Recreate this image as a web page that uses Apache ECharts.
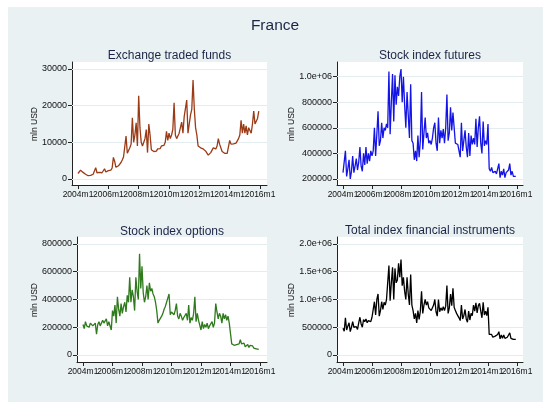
<!DOCTYPE html>
<html>
<head>
<meta charset="utf-8">
<script src="https://cdn.jsdelivr.net/npm/echarts@6/dist/echarts.min.js"></script>
<style>
html,body{margin:0;padding:0;background:#fff;}
#c{width:550px;height:406px;}
</style>
</head>
<body>
<div id="c"></div>
<script>
// Monthly data, 2004m1 .. 2015m12 (index 0 = 2004m1)
var etf = [
  1500,1200,2400,2000,1800,1500,1300,1100,900,800,1000,1100,
  1300,1500,3100,1700,1600,1800,1900,1700,2000,2800,1900,2200,
  2300,2500,2400,3000,5900,4800,3200,3400,3600,4000,4500,5200,
  6000,5500,11700,7000,7500,8500,9500,16700,10000,12000,15300,9000,
  22700,14000,10000,9000,8500,11000,13500,7200,15000,12000,8000,7800,
  7500,7800,7600,8200,8500,8300,9000,9500,9200,10000,13000,10500,
  12500,11000,12000,13500,20800,12000,11000,11500,12500,13000,15500,12500,
  17000,16500,21500,12500,15000,17500,19000,27000,19000,14000,12000,9000,
  9000,8500,8800,8200,8000,7600,7200,6500,7000,7200,7500,8500,
  8000,8200,9000,11000,9500,10000,7500,7200,7000,7300,7000,7500,
  10500,9500,9300,9600,9400,9800,10200,11000,12000,16000,12500,15000,
  12500,14500,12000,14000,14500,12500,15000,18500,15000,14500,16500,18500
];
var futures = [
  250000,240000,420000,220000,280000,350000,200000,260000,380000,250000,300000,360000,
  270000,330000,450000,300000,260000,400000,310000,450000,320000,400000,340000,420000,
  380000,420000,600000,380000,550000,730000,460000,500000,640000,520000,600000,580000,
  630000,600000,1040000,550000,800000,1020000,650000,1010000,780000,920000,850000,1000000,
  1060000,800000,1000000,780000,600000,880000,700000,520000,940000,500000,480000,350000,
  420000,340000,540000,370000,500000,880000,430000,560000,680000,520000,560000,480000,
  500000,470000,520000,600000,640000,480000,420000,680000,480000,580000,520000,590000,
  480000,600000,860000,500000,560000,760000,580000,720000,600000,480000,470000,470000,
  480000,370000,640000,420000,500000,580000,450000,370000,560000,380000,540000,470000,
  520000,470000,670000,450000,600000,690000,480000,400000,650000,460000,500000,470000,
  630000,280000,260000,290000,250000,240000,260000,240000,250000,320000,210000,260000,
  230000,280000,210000,250000,240000,270000,320000,230000,260000,220000,210000,220000
];
var options = [
  220000,190000,240000,210000,220000,200000,230000,240000,210000,200000,230000,150000,
  220000,240000,210000,200000,250000,230000,220000,260000,210000,240000,250000,180000,
  320000,280000,360000,230000,420000,330000,280000,370000,300000,350000,380000,310000,
  430000,380000,560000,380000,470000,420000,320000,560000,460000,400000,730000,480000,
  640000,450000,380000,420000,500000,400000,520000,460000,480000,440000,420000,380000,
  320000,230000,250000,260000,280000,300000,330000,350000,380000,410000,440000,290000,
  310000,300000,290000,320000,370000,280000,260000,300000,280000,250000,270000,260000,
  300000,250000,360000,230000,270000,250000,300000,420000,240000,300000,250000,260000,
  180000,240000,190000,220000,200000,230000,190000,210000,220000,240000,200000,230000,
  370000,310000,260000,300000,280000,230000,300000,260000,290000,250000,280000,230000,
  220000,80000,90000,70000,60000,75000,70000,80000,110000,80000,70000,85000,
  60000,70000,75000,55000,70000,60000,65000,50000,60000,45000,50000,40000
];
var total = [
  480000,430000,670000,450000,520000,580000,420000,500000,600000,500000,530000,510000,
  460000,580000,680000,560000,500000,640000,600000,650000,580000,620000,640000,600000,
  680000,700000,960000,720000,1000000,1100000,700000,800000,960000,820000,950000,900000,
  1000000,980000,1610000,980000,1300000,1580000,1000000,1560000,1300000,1350000,1650000,1400000,
  1720000,1250000,1400000,1150000,1000000,1400000,1100000,900000,1450000,900000,800000,650000,
  750000,580000,800000,640000,790000,1150000,750000,900000,1000000,900000,960000,850000,
  820000,800000,820000,900000,1000000,780000,700000,1000000,780000,850000,800000,870000,
  800000,880000,1250000,750000,850000,1100000,890000,1200000,860000,800000,750000,740000,
  670000,620000,900000,650000,710000,820000,650000,590000,790000,630000,750000,710000,
  900000,790000,940000,760000,890000,930000,790000,670000,950000,720000,790000,710000,
  860000,370000,360000,370000,320000,320000,340000,330000,370000,420000,290000,360000,
  300000,360000,300000,320000,320000,340000,400000,300000,330000,280000,270000,280000
];
var xTicks = [0, 24, 48, 72, 96, 120, 144];
var xTickLabels = ['2004m1','2006m1','2008m1','2010m1','2012m1','2014m1','2016m1'];
var yTicksEtf = [0, 10000, 20000, 30000];
var yLabelsEtf = ['0','10000','20000','30000'];
var yTicksFut = [200000, 400000, 600000, 800000, 1000000];
var yLabelsFut = ['200000','400000','600000','800000','1.0e+06'];
var yTicksOpt = [0, 200000, 400000, 600000, 800000];
var yLabelsOpt = ['0','200000','400000','600000','800000'];
var yTicksTot = [0, 500000, 1000000, 1500000, 2000000];
var yLabelsTot = ['0','500000','1.0e+06','1.5e+06','2.0e+06'];
var panelTitles = ['Exchange traded funds','Stock index futures','Stock index options','Total index financial instruments'];
var mainTitle = 'France';
var yName = 'mln USD';

var FONT = '"Liberation Sans", Arial, Helvetica, sans-serif';
var TXT = '#111';
var TITLE = '#1c2545';

function toPairs(arr){ return arr.map(function(v,i){ return [i, v]; }); }
function labelMap(ticks, labels){ return function(v){ var k = ticks.indexOf(v); return k >= 0 ? labels[k] : ''; }; }
// split tick list into alternating halves so neighbouring labels never compete for space
var xTicksA = xTicks.filter(function(v, i){ return i % 2 === 0; });
var xTicksB = xTicks.filter(function(v, i){ return i % 2 === 1; });

var panels = [
  {grid:{left:72, top:62, width:195, height:123}, xmin:-4.75, xmax:149.5, ymin:-1636, ymax:31900,
   ticks:yTicksEtf, labels:yLabelsEtf, data:etf, color:'#9b3a16', title:[169.5,57], yname:[35,124]},
  {grid:{left:337, top:62, width:186, height:123}, xmin:-4.97, xmax:148.97, ymin:153000, ymax:1114700,
   ticks:yTicksFut, labels:yLabelsFut, data:futures, color:'#1414e6', title:[430,57], yname:[292,124]},
  {grid:{left:77, top:237, width:190, height:125}, xmin:-4.88, xmax:149.7, ymin:-50450, ymax:850450,
   ticks:yTicksOpt, labels:yLabelsOpt, data:options, color:'#2f7a1c', title:[172,233], yname:[35,300]},
  {grid:{left:337, top:237, width:186, height:125}, xmin:-4.97, xmax:148.97, ymin:-126000, ymax:2126000,
   ticks:yTicksTot, labels:yLabelsTot, data:total, color:'#000000', title:[430,232], yname:[292,300]}
];

var grids = [], xAxes = [], yAxes = [], series = [], titles = [], graphics = [];
graphics.push({type:'rect', z:-10, shape:{x:8, y:7, width:535, height:395}, style:{fill:'#e9f1f3'}});
titles.push({text: mainTitle, left: 275, top: 18, textAlign:'center', padding:0,
  textStyle:{fontFamily:FONT, fontSize:15.5, fontWeight:'normal', color:TITLE}});

panels.forEach(function(p, k){
  grids.push(Object.assign({show:true, backgroundColor:'#ffffff', borderWidth:0}, p.grid));
  var xLabelStyle = {show:true, formatter:labelMap(xTicks, xTickLabels), margin:5,
      showMinLabel:true, showMaxLabel:true, hideOverlap:false,
      fontFamily:FONT, fontSize:8.5, color:TXT};
  xAxes.push({
    type:'value', gridIndex:k, min:p.xmin, max:p.xmax, position:'bottom',
    axisLine:{show:true, onZero:false, lineStyle:{color:'#222', width:1}},
    axisTick:{show:true, length:4, customValues:xTicks, lineStyle:{color:'#222'}},
    axisLabel:Object.assign({customValues:xTicksA}, xLabelStyle),
    splitLine:{show:false}
  });
  xAxes.push({
    type:'value', gridIndex:k, min:p.xmin, max:p.xmax, position:'bottom', offset:0,
    axisLine:{show:false, onZero:false},
    axisTick:{show:false, length:4, customValues:xTicksB},
    axisLabel:Object.assign({customValues:xTicksB}, xLabelStyle),
    splitLine:{show:false}
  });
  yAxes.push({
    type:'value', gridIndex:k, min:p.ymin, max:p.ymax,
    axisLine:{show:true, onZero:false, lineStyle:{color:'#222', width:1}},
    axisTick:{show:true, length:4, customValues:p.ticks, lineStyle:{color:'#222'}},
    axisLabel:{show:true, customValues:p.ticks, formatter:labelMap(p.ticks, p.labels), margin:5,
      showMinLabel:true, showMaxLabel:true, hideOverlap:false,
      fontFamily:FONT, fontSize:9, color:TXT},
    splitLine:{show:false}
  });
  series.push({
    type:'line', xAxisIndex:2*k, yAxisIndex:k, data:toPairs(p.data), showSymbol:false, symbol:'none',
    lineStyle:{color:p.color, width:1.3}, animation:false, silent:true,
    markLine:{silent:true, symbol:'none', label:{show:false}, animation:false,
      lineStyle:{color:'#e3edf0', width:1, type:'solid'},
      data:p.ticks.map(function(t){ return {yAxis:t}; }), z:1}
  });
  titles.push({text: panelTitles[k], left:p.title[0], top:p.title[1]-7, textAlign:'center', padding:0,
    textStyle:{fontFamily:FONT, fontSize:12, fontWeight:'normal', color:TITLE}});
  graphics.push({type:'text', x:p.yname[0], y:p.yname[1], rotation:Math.PI/2,
    style:{text:yName, fill:TXT, font:'8.5px ' + FONT, textAlign:'center', textVerticalAlign:'middle'}});
});

var chart = echarts.init(document.getElementById('c'), null, {renderer:'canvas'});
chart.setOption({
  animation:false,
  backgroundColor:'#ffffff',
  title:titles,
  grid:grids,
  xAxis:xAxes,
  yAxis:yAxes,
  series:series,
  graphic:graphics
});
</script>
</body>
</html>
